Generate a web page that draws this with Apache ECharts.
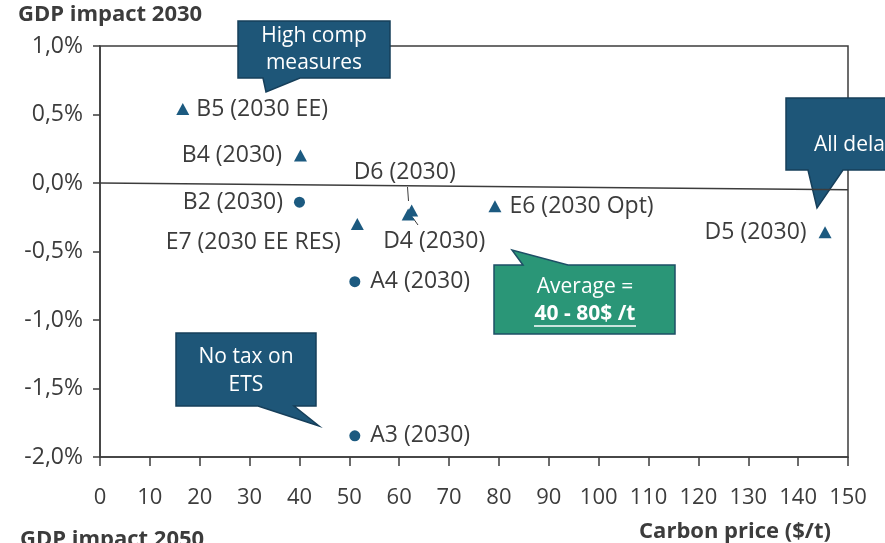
<!DOCTYPE html>
<html>
<head>
<meta charset="utf-8">
<script src="https://cdn.jsdelivr.net/npm/echarts@6/dist/echarts.min.js"></script>
<style>
  html, body { margin: 0; padding: 0; background: #fff; }
  #chart { width: 885px; height: 543px; }
</style>
</head>
<body>
<div id="chart"></div>
<script>
// scenarios drawn as triangles
const triangleNames = ['B5 (2030 EE)', 'B4 (2030)', 'E7 (2030 EE RES)', 'D6 (2030)', 'D4 (2030)', 'E6 (2030 Opt)', 'D5 (2030)']
const trianglePrice = [16.6, 40.2, 51.6, 62.5, 61.8, 79.2, 145.4]
const triangleGdp = [0.54, 0.2, -0.3, -0.2, -0.23, -0.17, -0.36]

// scenarios drawn as dots
const circleNames = ['B2 (2030)', 'A4 (2030)', 'A3 (2030)']
const circlePrice = [40.0, 51.1, 51.1]
const circleGdp = [-0.14, -0.72, -1.845]

// linear trend
const trendPrice = [0, 150]
const trendGdp = [0.0, -0.05]

const xTicks = [0, 150, 10]
const yTicks = [-2, 1, 0.5]

const markerColor = '#1c5a80'
const textColor = '#3c3c3c'
const font = "'Open Sans', 'Noto Sans', sans-serif"

// where each point label sits
const labelPlace = {
  'B5 (2030 EE)': { position: 'right', distance: 7 },
  'B4 (2030)': { position: 'left', distance: 12 },
  'E7 (2030 EE RES)': { position: 'left', distance: 10, offset: [0, 18] },
  'D6 (2030)': { position: 'inside', offset: [-7, -38] },
  'D4 (2030)': { position: 'inside', offset: [26, 27] },
  'E6 (2030 Opt)': { position: 'right', distance: 8 },
  'D5 (2030)': { position: 'left', distance: 12 },
  'B2 (2030)': { position: 'left', distance: 11 },
  'A4 (2030)': { position: 'right', distance: 10 },
  'A3 (2030)': { position: 'right', distance: 10 }
}

const toPoints = (names, xs, ys) => names.map((n, i) => {
  const p = labelPlace[n] || {}
  return {
    name: n,
    value: [xs[i], ys[i]],
    label: { position: p.position, distance: p.distance, offset: p.offset }
  }
})

const chart = echarts.init(document.getElementById('chart'))

const callout = (points, fill, stroke) => ({
  type: 'polygon',
  shape: { points },
  style: { fill, stroke, lineWidth: 1.5 }
})
const boxText = (text, x, y, opts = {}) => ({
  type: 'text',
  x, y,
  style: {
    text,
    fill: opts.fill || '#fff',
    font: (opts.bold ? 'bold ' : '') + (opts.size || 21) + 'px ' + font,
    align: opts.align || 'center',
    verticalAlign: 'middle'
  }
})
const leader = (x1, y1, x2, y2) => ({
  type: 'line',
  shape: { x1, y1, x2, y2 },
  style: { stroke: textColor, lineWidth: 1 },
  z: 2
})

const blue = '#1e5678'
const blueEdge = '#163f5a'
const green = '#2a9677'
const greenEdge = '#1d4f66'

const pointLabel = { show: true, formatter: '{b}', color: textColor, fontSize: 23, fontFamily: font }

const option = {
  animation: false,
  grid: { left: 100, right: 37, top: 46, bottom: 86, show: true, borderColor: textColor, borderWidth: 1.5 },
  xAxis: {
    type: 'value',
    min: xTicks[0], max: xTicks[1], interval: xTicks[2],
    axisLine: { show: true, onZero: false, lineStyle: { color: textColor, width: 1.5 } },
    axisTick: { show: true, length: 9, lineStyle: { color: textColor, width: 1.5 } },
    splitLine: { show: false },
    axisLabel: { color: textColor, fontSize: 22, fontFamily: font, margin: 30 }
  },
  yAxis: {
    type: 'value',
    min: yTicks[0], max: yTicks[1], interval: yTicks[2],
    axisLine: { show: true, onZero: false, lineStyle: { color: textColor, width: 1.5 } },
    axisTick: { show: true, length: 7, lineStyle: { color: textColor, width: 1.5 } },
    splitLine: { show: false },
    axisLabel: {
      color: textColor, fontSize: 23, fontFamily: font, margin: 17,
      formatter: v => v.toFixed(1).replace('.', ',') + '%'
    }
  },
  series: [
    {
      type: 'line',
      data: trendPrice.map((x, i) => [x, trendGdp[i]]),
      symbol: 'none',
      lineStyle: { color: textColor, width: 1.5 },
      z: 1
    },
    {
      type: 'scatter',
      symbol: 'triangle',
      symbolSize: [13, 12],
      itemStyle: { color: markerColor, opacity: 1 },
      label: pointLabel,
      data: toPoints(triangleNames, trianglePrice, triangleGdp),
      z: 3
    },
    {
      type: 'scatter',
      symbol: 'circle',
      symbolSize: 11,
      itemStyle: { color: markerColor, opacity: 1 },
      label: pointLabel,
      data: toPoints(circleNames, circlePrice, circleGdp),
      z: 3
    }
  ],
  graphic: [
    boxText('GDP impact 2030', 18, 15, { fill: textColor, bold: true, size: 22, align: 'left' }),
    boxText('Carbon price ($/t)', 735, 532, { fill: textColor, bold: true, size: 22 }),
    boxText('GDP impact 2050', 20, 540, { fill: textColor, bold: true, size: 22, align: 'left' }),

    // leader lines for the two overlapping D scenarios
    leader(407.5, 187, 408.5, 201),
    leader(413, 218, 418, 225),

    callout([[238, 21], [390, 21], [390, 78], [300, 78], [266, 92], [263, 78], [238, 78]], blue, blueEdge),
    boxText('High comp', 314, 36),
    boxText('measures', 314, 63),

    callout([[786, 98], [900, 98], [900, 170], [843, 170], [817, 208], [808, 170], [786, 170]], blue, blueEdge),
    boxText('All delayed', 814, 145, { align: 'left' }),

    callout([[176, 333], [316, 333], [316, 406], [294, 406], [319, 426], [258, 406], [176, 406]], blue, blueEdge),
    boxText('No tax on', 246, 357),
    boxText('ETS', 246, 385),

    callout([[494, 265], [523, 265], [512, 250], [568, 265], [675, 265], [675, 334], [494, 334]], green, greenEdge),
    boxText('Average =', 585, 287),
    boxText('40 - 80$ /t', 585, 314, { bold: true }),
    { type: 'line', shape: { x1: 534, y1: 326, x2: 636, y2: 326 }, style: { stroke: '#fff', lineWidth: 1.5 } }
  ]
}

chart.setOption(option)
window.addEventListener('resize', () => chart.resize())
</script>
</body>
</html>
